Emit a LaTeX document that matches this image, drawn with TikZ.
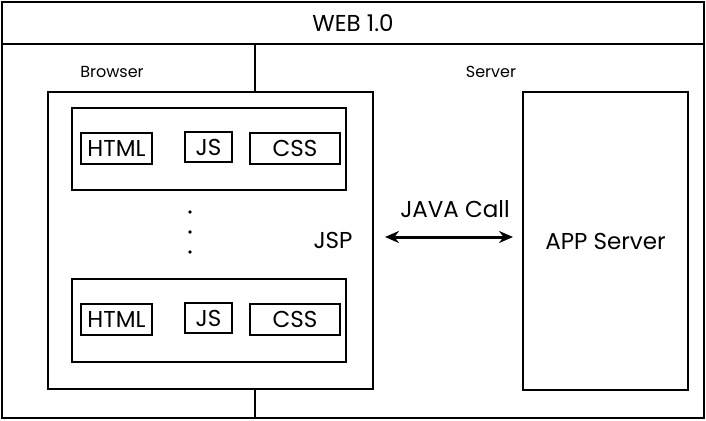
\documentclass[tikz,border=0pt]{standalone}
\usepackage{fontspec}
\setmainfont{Poppins}
\usepackage{tikz}
\usetikzlibrary{arrows.meta,positioning}

\begin{document}
\begin{tikzpicture}[x=1pt, y=-1pt,
  box/.style={draw, line width=2pt, inner sep=0pt},
  tag/.style={box, line width=2.2pt, minimum height=31pt, font=\fontsize{23}{25}\selectfont},
  bigtext/.style={font=\fontsize{23}{25}\selectfont},
  smalltext/.style={font=\fontsize{16}{18}\selectfont}]
\useasboundingbox (0,0) rectangle (706,420);

% frame and title
\node (page) [box, line width=1.5pt, minimum width=702pt, minimum height=416pt] at (353,210) {};
\node (title) [box, line width=1.5pt, minimum width=702pt, minimum height=42pt, bigtext] at (353,23) {WEB 1.0};
\node (blabel) [smalltext] at (112,72) {Browser};
\node (slabel) [smalltext] at (491,72) {Server};

% browser side
\node (browser) [box, minimum width=325pt, minimum height=297pt] at (210.5,240.5) {};
\node (pagetop) [box, minimum width=274pt, minimum height=82pt] at (209,149) {};
\node (pagebot) [box, minimum width=274pt, minimum height=83pt] at (209,320.5) {};

\node (htmltop) [tag, minimum width=71pt] at (116.5,148.5) {HTML};
\node (jstop) [tag, minimum width=47pt, minimum height=30pt] at (208.5,147) {JS};
\node (csstop) [tag, minimum width=90pt] at (295,148.5) {CSS};

\node (htmlbot) [tag, minimum width=71pt] at (116.5,319.5) {HTML};
\node (jsbot) [tag, minimum width=47pt, minimum height=30pt] at (208.5,318) {JS};
\node (cssbot) [tag, minimum width=90pt] at (295,319.5) {CSS};

\foreach \y in {212,232,252}
  \fill (190,\y) circle (1.8pt);

\node (jsp) [bigtext] at (333,240) {JSP};

% server side
\node (app) [box, minimum width=165pt, minimum height=298pt, bigtext] at (605.5,241) {APP Server};
\node (call) [bigtext] at (455,209) {JAVA Call};
\coordinate (mid) at (450,237);

\draw[{Stealth[length=14pt,width=12pt]}-{Stealth[length=14pt,width=12pt]}, line width=3pt,
  shorten <=11pt, shorten >=9pt] (browser.east |- mid) -- (app.west |- mid);

% divider
\coordinate (div) at (255,0);
\draw[line width=1.5pt] (title.south -| div) -- (browser.north -| div);
\draw[line width=1.5pt] (browser.south -| div) -- (page.south -| div);
\end{tikzpicture}
\end{document}
